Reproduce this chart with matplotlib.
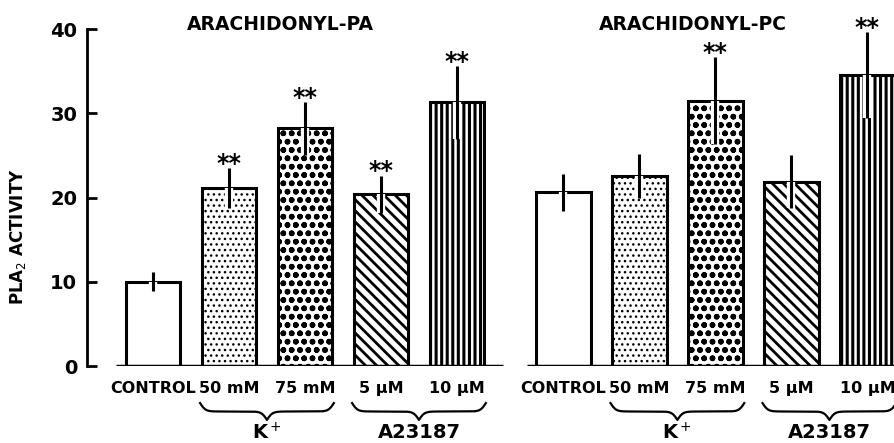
import numpy as np
import matplotlib
matplotlib.use("Agg")
import matplotlib.pyplot as plt

# values (PLA2 activity, mean and error)
conditions = ["CONTROL", "50 mM", "75 mM", "5 µM", "10 µM"]
pa_mean = [10.0, 21.1, 28.2, 20.4, 31.3]
pa_err = [1.1, 2.4, 3.1, 2.2, 4.3]
pa_sig = ["", "**", "**", "**", "**"]
pc_mean = [20.6, 22.6, 31.5, 21.9, 34.5]
pc_err = [2.2, 2.6, 5.2, 3.2, 5.1]
pc_sig = ["", "", "**", "", "**"]
panel_titles = ["ARACHIDONYL-PA", "ARACHIDONYL-PC"]
groups = [("K$^+$", 1, 2), ("A23187", 3, 4)]

hatches = [None, "...", "oo", "\\\\\\", "|||"]
hatch_lw = [1.0, 1.0, 1.7, 2.0, 2.2]

fig = plt.figure(figsize=(8.94, 4.43), dpi=100)
ax = fig.add_axes([0.0973, 0.1738, 0.9027, 0.7607])
ax.set_xlim(-0.868, 9.75)
ax.set_ylim(0, 40)

width = 0.72
offsets = [0.0, 5.4]


def brace(ax, x1, x2, ytop, h):
    xs = np.linspace(x1, x2, 401)
    half = xs[:201]
    beta = 28.0
    yh = 1 / (1 + np.exp(-beta * (half - half[0]))) + 1 / (1 + np.exp(-beta * (half - half[-1])))
    yy = np.concatenate((yh, yh[-2::-1]))
    ax.plot(xs, ytop - (yy - 0.5) * h, color="black", lw=1.6, clip_on=False)


for p, (means, errs, sigs) in enumerate([(pa_mean, pa_err, pa_sig), (pc_mean, pc_err, pc_sig)]):
    x = np.arange(len(conditions)) + offsets[p]
    for i in range(len(conditions)):
        with plt.rc_context({"hatch.linewidth": hatch_lw[i]}):
            b = ax.bar(x[i], means[i], width, color="white", edgecolor="black",
                       linewidth=2.2, hatch=hatches[i], zorder=2)
        for r in b:
            if hasattr(r, "set_hatch_linewidth"):
                r.set_hatch_linewidth(hatch_lw[i])
    ax.vlines(x, np.array(means) - np.array(errs), means, color="white", lw=6, zorder=3)
    ax.errorbar(x, means, yerr=errs, fmt="none", ecolor="black", elinewidth=2.2,
                capsize=0, zorder=4)
    for i in range(len(conditions)):
        if sigs[i]:
            ax.annotate(sigs[i], (x[i], means[i] + errs[i]), xytext=(0, -2),
                        textcoords="offset points", ha="center", va="baseline",
                        fontsize=17, fontweight="bold", annotation_clip=False)
        ax.text(x[i], -2.7, conditions[i], ha="center", va="center",
                fontsize=11.5, fontweight="bold", clip_on=False)
    # baseline of each panel
    ax.hlines(0, x[0] - 0.48, x[-1] + 0.6, color="black", lw=2.5, zorder=5)
    for label, a, c in groups:
        brace(ax, x[a] - width / 2 - 0.02, x[c] + width / 2 + 0.02, -4.4, 2.0)
        ax.text((x[a] + x[c]) / 2, -7.95, label, ha="center", va="center",
                fontsize=14, fontweight="bold", clip_on=False)

fig.text(280 / 894, 1 - 24 / 443, panel_titles[0], ha="center", va="center",
         fontsize=13.5, fontweight="bold")
fig.text(693 / 894, 1 - 24 / 443, panel_titles[1], ha="center", va="center",
         fontsize=13.5, fontweight="bold")
fig.text(18 / 894, 1 - 237 / 443, "PLA$_2$ ACTIVITY", rotation=90, ha="center",
         va="center", fontsize=12, fontweight="bold")

for s in ["top", "right", "bottom"]:
    ax.spines[s].set_visible(False)
ax.spines["left"].set_linewidth(2)
ax.set_xticks([])
ax.set_yticks([0, 10, 20, 30, 40])
ax.tick_params(axis="y", direction="in", length=7, width=2, pad=7, labelsize=14)
for t in ax.get_yticklabels():
    t.set_fontweight("bold")

fig.savefig("out.png", dpi=100)
